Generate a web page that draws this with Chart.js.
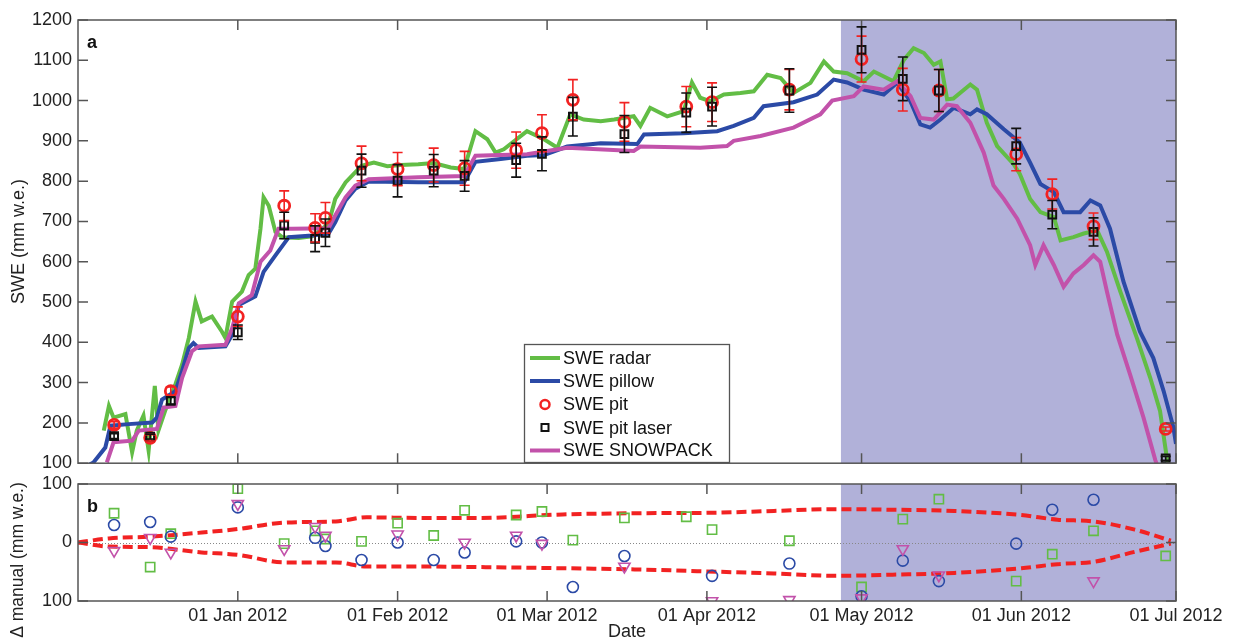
<!DOCTYPE html>
<html>
<head>
<meta charset="utf-8">
<script src="https://cdn.jsdelivr.net/npm/chart.js@4.4.0/dist/chart.umd.min.js"></script>
<style>
body { margin: 0; background: #fff; }
#wrap { position: relative; width: 1234px; height: 641px; }
#top { position: absolute; left: 0; top: 0; }
#bot { position: absolute; left: 0; top: 466px; }
</style>
</head>
<body>
<div id="wrap">
  <canvas id="top" width="1234" height="480"></canvas>
  <canvas id="bot" width="1234" height="175"></canvas>
</div>
<script>
// x values are days since 01 Dec 2011
var monthTicks = [31, 62, 91, 122, 152, 183, 213];
var monthLabels = ['01 Jan 2012', '01 Feb 2012', '01 Mar 2012', '01 Apr 2012', '01 May 2012', '01 Jun 2012', '01 Jul 2012'];
var shadeStart = 148, shadeEnd = 213;

// SWE radar (green)
var radarDays = [5,6,6.9,9.2,10.5,11.4,12.7,13.7,14.9,15.6,16.9,18.9,20.2,21.5,22.8,24,26,27.9,28.6,29.9,31.8,33.1,34.4,35.4,36,37,38.3,39.6,42.8,45.4,48.6,49.9,51.9,55,57.4,60,62.6,66,69,72.3,74.9,77.1,79.4,81,82.6,87.1,90.4,93,95.5,98.1,101.4,104,107.8,109.1,111,114.3,117.5,119.1,120.7,122.7,125.3,128.5,131.1,133.7,136.3,138.8,142.1,144.7,146.6,149.2,152.4,154.4,158.2,160.2,162.1,164.1,166,167.3,168.6,169.8,173.1,174.4,176.3,178.3,181.5,182.7,184.7,186.7,189.3,190.6,193.1,195.1,197.7,199.6,202.2,205.4,208,209.9,211.2,211.8];
var radarSwe = [181,242,213,222,127,181,218,131,292,181,230,296,345,411,501,452,464,427,411,501,526,567,583,682,760,739,674,661,659,663,694,756,797,838,846,837,840,842,845,834,830,924,904,871,879,924,904,883,966,953,949,953,961,937,982,961,974,1045,1007,998,1015,1019,1023,1064,1056,1019,1044,1097,1072,1068,1048,1072,1048,1101,1130,1118,1089,1097,1003,1005,1040,1027,945,887,842,818,756,723,711,653,661,670,678,625,526,411,312,230,115,60];

// SWE pillow (blue)
var pillowDays = [2,3,5.3,6.3,9.8,14.4,15.3,16.3,18.9,20.2,21.5,22.4,23.4,28.6,29.9,31.2,34.4,36,38.3,40.9,45.4,48.6,49.9,51.9,53.8,56.4,66,74.9,77.1,82,87.1,90.4,94.9,101.4,108.5,109.8,117.5,124,127.2,131.1,133,138.8,143.4,146.6,149.2,152.4,156.3,158.9,161.5,163.4,165.3,167.3,169.9,173.1,174.4,176.3,179.6,182.7,184.7,186.7,189.3,191.2,194.4,196.4,198.3,200.2,202.8,206,208.6,210.6,212.5,213];
var pillowSwe = [95,102,139,193,197,201,213,258,279,329,386,398,386,390,419,493,514,575,616,661,665,670,698,752,781,799,797,797,848,855,863,865,886,894,892,916,919,924,937,957,986,996,1015,1052,1045,1027,1015,1044,998,941,933,953,982,966,978,966,929,896,846,793,773,723,723,752,740,682,551,427,361,279,189,148];

// SWE SNOWPACK (magenta)
var snowDays = [5.6,6.9,10.5,11.8,15.3,16.6,18.9,20.2,22.1,23.4,28.6,29.9,31.2,33.7,35.4,37.3,38.9,41.5,48.6,49.9,51.9,53.8,56.4,66,74.9,77.1,87.1,94.9,107.8,109.1,120.7,125.9,127.2,132.4,138.8,144,146.3,150.5,152.4,156.3,158.9,161.5,163.4,166,168.6,170.5,173.1,175.7,177.6,179.6,182.2,184.7,185.7,187.3,189.3,191.2,193.1,195.1,197,198.3,199.6,201.6,204.1,206.7,209,209.5];
var snowSwe = [102,152,156,181,185,238,242,312,378,390,394,435,497,517,600,628,682,682,683,715,760,789,805,810,813,863,867,883,875,886,883,887,900,912,933,966,1000,1011,1035,1027,1048,1011,957,953,990,986,945,871,789,756,707,641,592,641,592,538,571,592,616,600,526,419,320,213,107,90];

// manual pit measurements
var pitDays = [7,14,18,31,40,46,48,55,62,69,75,85,90,96,106,118,123,138,152,160,167,182,189,197,211];
var pitSwe = [195,163,279,464,739,684,709,844,830,840,832,877,919,1002,947,985,996,1027,1103,1027,1025,867,768,688,185];
var pitErr = [8,8,10,24,37,35,38,43,41,42,42,45,46,50,48,50,48,50,57,53,52,41,37,33,5];
var laserSwe = [167,166,255,425,690,657,672,826,801,826,813,852,868,960,917,970,985,1025,1126,1054,1025,887,717,674,112];
var laserErr = [6,6,8,18,33,32,34,41,40,40,38,42,42,48,46,49,48,54,57,54,52,44,35,35,5];

// panel b: differences to manual
var dRadar = [50,-42,15,92,-2,20,6,2,33,12,55,47,53,4,42,44,22,3,-76,40,74,-66,-20,20,-23];
var dPillow = [30,35,10,60,null,8,-6,-30,0,-30,-17,2,0,-76,-23,null,-57,-36,-92,-31,-66,-2,56,73,null];
var dSnow = [-14,8,-17,66,-11,27,12,null,14,null,0,12,-2,null,-41,null,-100,-98,-95,-11,-56,null,null,-66,null];
var envDays = [0,6,14,24,31,40,50,56,66,78,94,108,124,135,147,158,170,183,190,197,205,212];
var envUpper = [0,7,10,17,23,34,36,43,42,42,48,50,51,54,57,56,54,47,39,36,22,3];
var envLower = [0,-7,-8,-17,-21,-34,-34,-41,-41,-42,-44,-46,-50,-53,-57,-55,-52,-44,-37,-33,-16,-2];

var legendNames = ['SWE radar', 'SWE pillow', 'SWE pit', 'SWE pit laser', 'SWE SNOWPACK'];

var cGreen = '#62bd45', cBlue = '#2b4aa6', cMag = '#c252aa', cRed = '#f22222', cShade = '#b1b1d9';
var fontFam = '"Liberation Sans", Arial, sans-serif';
Chart.defaults.font.family = fontFam;
Chart.defaults.font.size = 18;
Chart.defaults.color = '#222';

function pts(xs, ys) {
  return xs.map(function (x, i) { return { x: x, y: ys[i] }; });
}

// shading, box, inward ticks, panel letter
var frame = {
  id: 'frame',
  beforeDatasetsDraw: function (chart, args, opts) {
    var ca = chart.chartArea, xs = chart.scales.x, ys = chart.scales.y, ctx = chart.ctx;
    ctx.save();
    var x0 = xs.getPixelForValue(shadeStart), x1 = xs.getPixelForValue(shadeEnd);
    ctx.fillStyle = cShade;
    ctx.fillRect(x0, ca.top, x1 - x0, ca.bottom - ca.top);
    if (opts.zeroLine) {
      var y0 = Math.round(ys.getPixelForValue(0)) + 0.5;
      ctx.strokeStyle = '#888';
      ctx.lineWidth = 1;
      ctx.setLineDash([1, 2]);
      ctx.beginPath(); ctx.moveTo(ca.left, y0); ctx.lineTo(ca.right, y0); ctx.stroke();
    }
    ctx.restore();
  },
  afterDatasetsDraw: function (chart, args, opts) {
    var ca = chart.chartArea, xs = chart.scales.x, ys = chart.scales.y, ctx = chart.ctx;
    var tl = 10;
    ctx.save();
    ctx.strokeStyle = '#555';
    ctx.lineWidth = 1.5;
    ctx.beginPath();
    monthTicks.forEach(function (v) {
      var px = xs.getPixelForValue(v);
      ctx.moveTo(px, ca.top); ctx.lineTo(px, ca.top + tl);
      ctx.moveTo(px, ca.bottom); ctx.lineTo(px, ca.bottom - tl);
    });
    ys.ticks.forEach(function (t) {
      var py = ys.getPixelForValue(t.value);
      ctx.moveTo(ca.left, py); ctx.lineTo(ca.left + tl, py);
      ctx.moveTo(ca.right, py); ctx.lineTo(ca.right - tl, py);
    });
    ctx.stroke();
    ctx.strokeRect(ca.left, ca.top, ca.right - ca.left, ca.bottom - ca.top);
    ctx.fillStyle = '#111';
    ctx.font = 'bold 18px ' + fontFam;
    ctx.fillText(opts.letter, ca.left + 9, ca.top + 28);
    ctx.restore();
  }
};

// error bars for the pit measurements
var errBars = {
  id: 'errBars',
  afterDatasetsDraw: function (chart) {
    var xs = chart.scales.x, ys = chart.scales.y, ctx = chart.ctx;
    function bars(vals, errs, col) {
      ctx.strokeStyle = col;
      ctx.lineWidth = 1.6;
      ctx.beginPath();
      pitDays.forEach(function (d, i) {
        var px = xs.getPixelForValue(d);
        var yt = ys.getPixelForValue(vals[i] + errs[i]);
        var yb = ys.getPixelForValue(vals[i] - errs[i]);
        ctx.moveTo(px, yt); ctx.lineTo(px, yb);
        ctx.moveTo(px - 5, yt); ctx.lineTo(px + 5, yt);
        ctx.moveTo(px - 5, yb); ctx.lineTo(px + 5, yb);
      });
      ctx.stroke();
    }
    ctx.save();
    bars(pitSwe, pitErr, cRed);
    bars(laserSwe, laserErr, '#111');
    ctx.restore();
  }
};

var legendBox = {
  id: 'legendBox',
  afterDraw: function (chart) {
    var ctx = chart.ctx;
    var bx = 524, by = 344, bw = 205, bh = 118;
    ctx.save();
    ctx.fillStyle = '#fff';
    ctx.fillRect(bx, by, bw, bh);
    ctx.strokeStyle = '#555';
    ctx.lineWidth = 1.3;
    ctx.strokeRect(bx + 0.5, by + 0.5, bw, bh);
    var rows = [358, 381, 404.5, 428, 450.5];
    var kinds = ['line', 'line', 'circle', 'rect', 'line'];
    var cols = [cGreen, cBlue, cRed, '#111', cMag];
    ctx.font = '18px ' + fontFam;
    ctx.textBaseline = 'middle';
    rows.forEach(function (y, i) {
      ctx.strokeStyle = cols[i];
      if (kinds[i] === 'line') {
        ctx.lineWidth = 4;
        ctx.beginPath(); ctx.moveTo(530, y); ctx.lineTo(560, y); ctx.stroke();
      } else if (kinds[i] === 'circle') {
        ctx.lineWidth = 2.5;
        ctx.beginPath(); ctx.arc(545, y, 4.5, 0, Math.PI * 2); ctx.stroke();
      } else {
        ctx.lineWidth = 2;
        ctx.strokeRect(541.5, y - 4, 7, 7);
      }
      ctx.fillStyle = '#111';
      ctx.fillText(legendNames[i], 563, y + 1);
    });
    ctx.restore();
  }
};

var bottomTitle = {
  id: 'bottomTitle',
  afterDraw: function (chart) {
    var ctx = chart.ctx;
    ctx.save();
    ctx.translate(18, 94);
    ctx.rotate(-Math.PI / 2);
    ctx.font = '17.5px ' + fontFam;
    ctx.fillStyle = '#222';
    ctx.textAlign = 'center';
    ctx.textBaseline = 'middle';
    ctx.fillText('\u0394 manual (mm w.e.)', 0, 0);
    ctx.restore();
  }
};

function monthScale(showLabels) {
  return {
    type: 'linear',
    min: 0,
    max: 213,
    display: showLabels,
    afterBuildTicks: function (s) { s.ticks = monthTicks.map(function (v) { return { value: v }; }); },
    ticks: {
      autoSkip: false,
      maxRotation: 0,
      padding: 4,
      callback: function (v) { var i = monthTicks.indexOf(v); return i >= 0 ? monthLabels[i] : ''; }
    },
    grid: { display: false, drawTicks: false },
    border: { display: false },
    title: { display: showLabels, text: 'Date', padding: { top: 0, bottom: 0 }, font: { size: 18, lineHeight: 1 } },
    afterFit: function (s) { if (showLabels) s.height = 40; }
  };
}

new Chart(document.getElementById('top'), {
  type: 'line',
  data: {
    datasets: [
      { label: legendNames[0], data: pts(radarDays, radarSwe), borderColor: cGreen, borderWidth: 4, pointRadius: 0, order: 5 },
      { label: legendNames[1], data: pts(pillowDays, pillowSwe), borderColor: cBlue, borderWidth: 4, pointRadius: 0, order: 4 },
      { label: legendNames[2], data: pts(pitDays, pitSwe), showLine: false, pointStyle: 'circle', pointRadius: 5.5,
        borderColor: cRed, backgroundColor: 'rgba(0,0,0,0)', pointBorderWidth: 2.8, order: 2 },
      { label: legendNames[3], data: pts(pitDays, laserSwe), showLine: false, pointStyle: 'rect', pointRadius: 5.5,
        borderColor: '#111', backgroundColor: 'rgba(0,0,0,0)', pointBorderWidth: 2, order: 1 },
      { label: legendNames[4], data: pts(snowDays, snowSwe), borderColor: cMag, borderWidth: 4, pointRadius: 0, order: 3 }
    ]
  },
  options: {
    responsive: false,
    animation: false,
    devicePixelRatio: 1,
    layout: { padding: { top: 20, right: 58, bottom: 14, left: 0 } },
    plugins: { legend: { display: false }, tooltip: { enabled: false }, frame: { letter: 'a' } },
    scales: {
      x: monthScale(false),
      y: {
        min: 100, max: 1200,
        ticks: { stepSize: 100, padding: 6, callback: function (v) { return String(v); } },
        grid: { display: false, drawTicks: false },
        border: { display: false },
        title: { display: true, text: 'SWE (mm w.e.)', padding: { top: 8, bottom: 0 }, font: { size: 18 } },
        afterFit: function (s) { s.width = 78; }
      }
    }
  },
  plugins: [frame, errBars, legendBox]
});

new Chart(document.getElementById('bot'), {
  type: 'line',
  data: {
    datasets: [
      { data: pts(envDays, envUpper), borderColor: cRed, borderWidth: 4, borderDash: [10, 5], pointRadius: 0,
        cubicInterpolationMode: 'monotone', order: 5 },
      { data: pts(envDays, envLower), borderColor: cRed, borderWidth: 4, borderDash: [10, 5], pointRadius: 0,
        cubicInterpolationMode: 'monotone', order: 5 },
      { data: pts(pitDays, dRadar), showLine: false, pointStyle: 'rect', pointRadius: 6.5, borderColor: cGreen,
        backgroundColor: 'rgba(0,0,0,0)', pointBorderWidth: 1.6, order: 3 },
      { data: pts(pitDays, dPillow), showLine: false, pointStyle: 'circle', pointRadius: 5.5, borderColor: cBlue,
        backgroundColor: 'rgba(0,0,0,0)', pointBorderWidth: 1.6, order: 2 },
      { data: pts(pitDays, dSnow), showLine: false, pointStyle: 'triangle', pointRotation: 180, pointRadius: 6.5,
        borderColor: cMag, backgroundColor: 'rgba(0,0,0,0)', pointBorderWidth: 1.6, order: 1 }
    ]
  },
  options: {
    responsive: false,
    animation: false,
    devicePixelRatio: 1,
    layout: { padding: { top: 18, right: 58, bottom: 0, left: 0 } },
    plugins: { legend: { display: false }, tooltip: { enabled: false }, frame: { letter: 'b', zeroLine: true } },
    scales: {
      x: monthScale(true),
      y: {
        min: -100, max: 100,
        ticks: { stepSize: 100, padding: 6, callback: function (v) { return String(Math.abs(v)); } },
        grid: { display: false, drawTicks: false },
        border: { display: false },
        title: { display: false },
        afterFit: function (s) { s.width = 78; }
      }
    }
  },
  plugins: [frame, bottomTitle]
});
</script>
</body>
</html>
